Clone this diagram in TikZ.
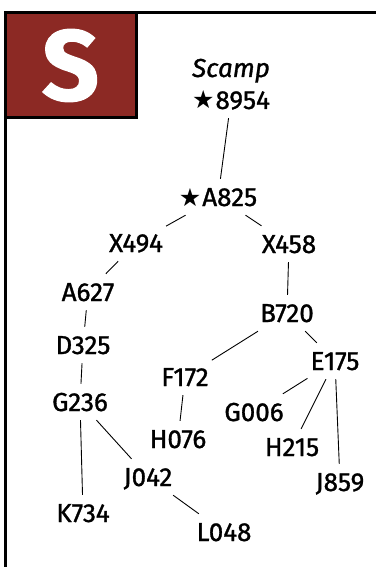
\documentclass[tikz,border=0pt]{standalone}
\usepackage{fontspec}
\setmainfont{Fira Sans}[FakeBold=1.2]
\newfontfamily\symfont{DejaVu Sans}
\usetikzlibrary{positioning}
\definecolor{sred}{RGB}{140,41,36}
\newcommand{\starred}{{\symfont\fontsize{25}{25}\selectfont ★}\hspace{1pt}}

\begin{document}
\begin{tikzpicture}[x=1pt, y=-1pt,
    on grid,
    taxon/.style={inner xsep=3pt, inner ysep=9pt, text height=18pt, text depth=0pt, font=\fontsize{26}{26}\selectfont},
    link/.style={line width=0.9pt}
]
\useasboundingbox (0,0) rectangle (376,567);

% frame and letter box
\draw[line width=3pt] (5,567) -- (5,13) -- (376,13);
\node[fill=sred, draw=black, line width=3pt, minimum width=131pt, minimum height=105pt,
      text=white, font=\fontsize{100}{100}\selectfont\bfseries] (letter) at (70.5,65.5) {S};

% tree
\node[taxon] (n8954) at (231,100) {\starred 8954};
\node[taxon, above=32pt of n8954, font=\fontsize{26}{26}\selectfont\itshape] (scamp) {Scamp};
\node[taxon, below left=97pt and 13pt of n8954] (a825) {\starred A825};
\node[taxon, below left=46pt and 82pt of a825] (x494) {X494};
\node[taxon, below right=47pt and 71pt of a825] (x458) {X458};
\node[taxon, below left=49pt and 48pt of x494] (a627) {A627};
\node[taxon, below left=53pt and 5pt of a627] (d325) {D325};
\node[taxon, below left=57pt and 3pt of d325] (g236) {G236};
\node[taxon, below right=111pt and 3pt of g236] (k734) {K734};
\node[taxon, below right=75pt and 68pt of g236] (j042) {J042};
\node[taxon, below right=55pt and 76pt of j042] (l048) {L048};
\node[taxon, below left=69pt and 2pt of x458] (b720) {B720};
\node[taxon, below left=64pt and 102pt of b720] (f172) {F172};
\node[taxon, below left=62pt and 7pt of f172] (h076) {H076};
\node[taxon, below right=48pt and 48pt of b720] (e175) {E175};
\node[taxon, below left=51pt and 81pt of e175] (g006) {G006};
\node[taxon, below left=86pt and 43pt of e175] (h215) {H215};
\node[taxon, below right=121pt and 5pt of e175] (j859) {J859};

\draw[link] (n8954) -- (a825);
\draw[link] (a825) -- (x494);
\draw[link] (a825) -- (x458);
\draw[link] (x494) -- (a627);
\draw[link] (a627) -- (d325);
\draw[link] (d325) -- (g236);
\draw[link] (g236) -- (k734);
\draw[link] (g236) -- (j042);
\draw[link] (j042) -- (l048);
\draw[link] (x458) -- (b720);
\draw[link] (b720) -- (f172);
\draw[link] (f172) -- (h076);
\draw[link] (b720) -- (e175);
\draw[link] (e175) -- (g006);
\draw[link] (e175) -- (h215);
\draw[link] (e175) -- (j859);
\end{tikzpicture}
\end{document}
